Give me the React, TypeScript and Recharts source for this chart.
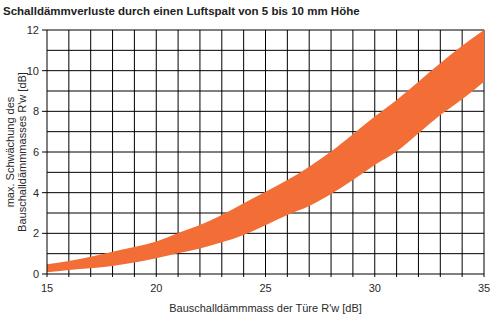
import { ComposedChart, Area, XAxis, YAxis, CartesianGrid, Label } from 'recharts';

const rw = [15, 16, 17, 18, 19, 20, 21, 22, 23, 24, 25, 26, 27, 28, 29, 30, 31, 32, 33, 34, 35];
const lower = [0.08, 0.2, 0.28, 0.39, 0.56, 0.78, 1.02, 1.26, 1.56, 1.92, 2.4, 2.9, 3.34, 3.93, 4.62, 5.36, 6.02, 6.92, 7.82, 8.6, 9.46];
const upper = [0.48, 0.64, 0.85, 1.1, 1.33, 1.6, 2.02, 2.41, 2.9, 3.48, 4.05, 4.62, 5.28, 6.02, 6.87, 7.74, 8.56, 9.46, 10.36, 11.22, 12];
const yTicks = [0, 2, 4, 6, 8, 10, 12];
const yGrid = [1, 2, 3, 4, 5, 6, 7, 8, 9, 10, 11, 12];
const xGrid = rw.slice(1);

const data = rw.map((x, i) => ({ x, range: [lower[i], upper[i]] }));

const font = '"Liberation Sans", Arial, sans-serif';
const tickStyle = { fill: '#2a2a2a', fontSize: 11, fontFamily: font };

export default function App() {
  return (
    <div style={{ position: 'absolute', left: 0, top: 0, width: 496, height: 326, background: '#fff' }}>
      <div
        style={{
          position: 'absolute',
          left: 3,
          top: 5,
          fontFamily: font,
          fontWeight: 'bold',
          fontSize: 11.5,
          color: '#222',
          whiteSpace: 'nowrap',
        }}
      >
        Schalldämmverluste durch einen Luftspalt von 5 bis 10 mm Höhe
      </div>
      <ComposedChart width={496} height={326} data={data} margin={{ top: 30, right: 12, left: 0, bottom: 0 }}>
        <CartesianGrid
          stroke="#000"
          strokeWidth={1}
          horizontalValues={yGrid}
          verticalValues={xGrid}
        />
        <XAxis
          dataKey="x"
          type="number"
          domain={[15, 35]}
          ticks={rw}
          interval={0}
          tickFormatter={(v: number) => (v % 5 === 0 ? String(v) : '')}
          tick={tickStyle}
          tickSize={3}
          tickMargin={7}
          tickLine={{ stroke: '#000' }}
          axisLine={{ stroke: '#000' }}
          height={52}
        >
          <Label value="Bauschalldämmmass der Türe R'w [dB]" position="insideTop" offset={30} style={{ ...tickStyle, textAnchor: 'middle' }} />
        </XAxis>
        <YAxis
          type="number"
          domain={[0, 12]}
          ticks={yTicks}
          interval={0}
          tick={tickStyle}
          tickSize={5}
          tickMargin={3}
          tickLine={{ stroke: '#000' }}
          axisLine={{ stroke: '#000' }}
          width={47}
        />
        <Area
          dataKey="range"
          type="monotone"
          stroke="none"
          fill="#f26e36"
          fillOpacity={1}
          isAnimationActive={false}
        />
        <text transform="translate(14,152) rotate(-90)" textAnchor="middle" style={tickStyle}>
          <tspan x={0} dy={0}>max. Schwächung des</tspan>
          <tspan x={0} dy={12}>Bauschalldämmmasses R'w [dB]</tspan>
        </text>
      </ComposedChart>
    </div>
  );
}
